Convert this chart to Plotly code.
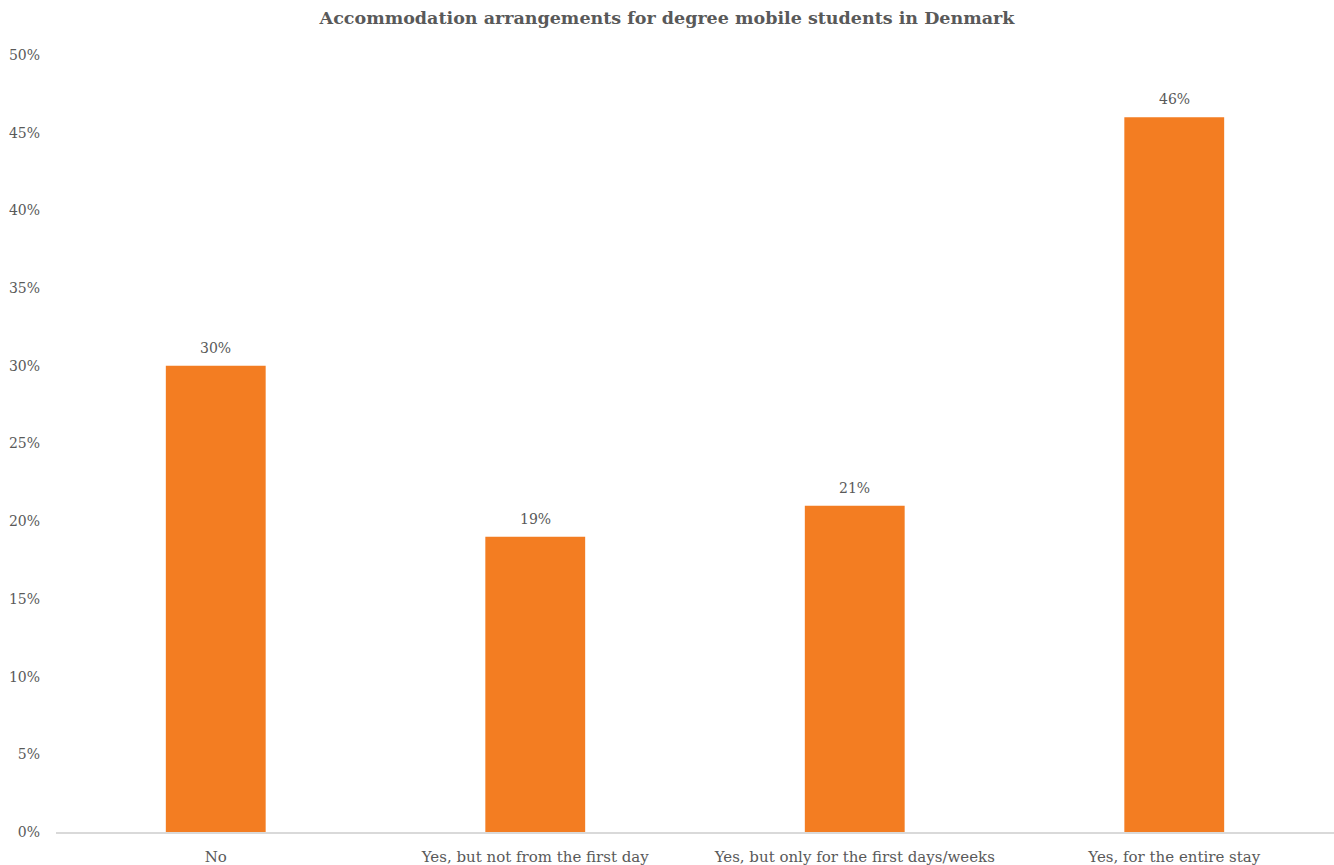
import plotly.graph_objects as go

categories = ["No", "Yes, but not from the first day", "Yes, but only for the first days/weeks", "Yes, for the entire stay"]
values = [0.30, 0.19, 0.21, 0.46]
value_labels = ["30%", "19%", "21%", "46%"]
tick_vals = [0, 0.05, 0.10, 0.15, 0.20, 0.25, 0.30, 0.35, 0.40, 0.45, 0.50]
tick_text = ["0%", "5%", "10%", "15%", "20%", "25%", "30%", "35%", "40%", "45%", "50%"]

FONT = "DejaVu Serif"
GRAY = "#595959"

fig = go.Figure(go.Bar(
    x=categories, y=values,
    marker=dict(color="#F37D22", line=dict(width=0)),
    width=0.3125, hoverinfo="skip",
))

for c, v, t in zip(categories, values, value_labels):
    fig.add_annotation(x=c, y=v, text=t, showarrow=False, yanchor="middle", yshift=18,
                       font=dict(family=FONT, size=14, color=GRAY))

fig.update_layout(
    width=1334, height=865,
    margin=dict(l=56, r=0, t=55, b=33),
    paper_bgcolor="white", plot_bgcolor="white",
    showlegend=False,
    title=dict(text="<b>Accommodation arrangements for degree mobile students in Denmark</b>",
               x=0.5, xanchor="center", y=1 - 18 / 865, yanchor="middle",
               font=dict(family=FONT, size=17.5, color=GRAY)),
    font=dict(family=FONT, size=14, color=GRAY),
)
fig.update_xaxes(showgrid=False, showline=True, linecolor="#D9D9D9", linewidth=1.5,
                 ticks="", automargin=False, ticklabelstandoff=10,
                 tickfont=dict(family=FONT, size=15, color=GRAY))
fig.update_yaxes(range=[0, 0.5], tickvals=tick_vals, ticktext=tick_text, showgrid=False,
                 zeroline=False, showline=False, ticks="", automargin=False, ticklabelstandoff=15,
                 tickfont=dict(family=FONT, size=14, color=GRAY))

fig.write_html("out.html", config={"displayModeBar": False},
               post_script="document.body.style.margin='0';document.body.style.overflow='hidden';")
